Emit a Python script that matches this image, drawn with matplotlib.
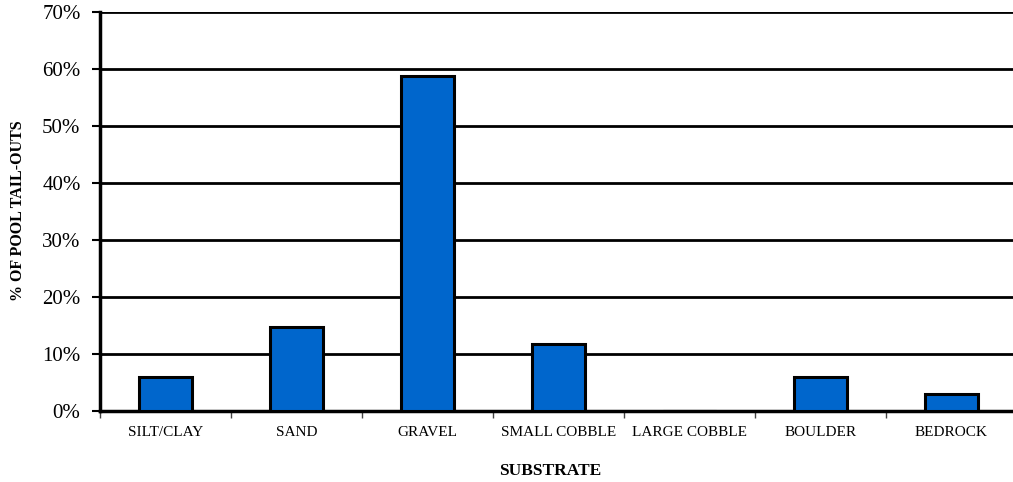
import matplotlib
matplotlib.use("Agg")
import matplotlib.pyplot as plt
from matplotlib.ticker import FixedLocator, PercentFormatter

categories = ["SILT/CLAY", "SAND", "GRAVEL", "SMALL COBBLE", "LARGE COBBLE", "BOULDER", "BEDROCK"]
counts = [2, 5, 20, 4, 0, 2, 1]
total = sum(counts)
percent = [100.0 * c / total for c in counts]
y_ticks = [0, 10, 20, 30, 40, 50, 60, 70]

plt.rcParams["font.family"] = ["Liberation Serif", "DejaVu Serif"]

fig = plt.figure(figsize=(10.13, 4.82), dpi=100)
ax = fig.add_axes([100 / 1013, 71 / 482, 913 / 1013, 399 / 482])

x = list(range(len(categories)))
ax.bar(x, percent, width=0.41, color="#0066CC", edgecolor="black", linewidth=2.2, zorder=3)

ax.set_ylim(0, 70)
ax.set_xlim(-0.5, -0.5 + 913 / 131)
ax.set_yticks(y_ticks)
ax.yaxis.set_major_formatter(PercentFormatter(decimals=0))
ax.yaxis.grid(True, color="black", linewidth=2.0, zorder=0)
ax.set_axisbelow(True)

ax.set_xticks(x)
ax.set_xticklabels(categories, fontsize=11)
ax.xaxis.set_minor_locator(FixedLocator([i - 0.5 for i in range(len(categories) + 1)]))
ax.tick_params(axis="x", which="major", length=0, pad=11)
ax.tick_params(axis="x", which="minor", length=5, width=1.0, color="#444444")
ax.tick_params(axis="y", length=6, width=1.5, labelsize=15, pad=8)

for side in ("top", "right"):
    ax.spines[side].set_visible(False)
ax.spines["left"].set_linewidth(2.5)
ax.spines["bottom"].set_linewidth(2.5)

ax.set_ylabel("% OF POOL TAIL-OUTS", fontsize=11.5, fontweight="bold")
ax.yaxis.set_label_coords(-(100 - 18) / 913, (411 - 211) / 399)
ax.set_xlabel("SUBSTRATE", fontsize=12.5, fontweight="bold")
ax.xaxis.set_label_coords((550 - 100) / 913, -(471 - 411) / 399)
ax.xaxis.label.set_verticalalignment("center")
ax.yaxis.label.set_verticalalignment("center")

fig.savefig("out.png", dpi=100)
